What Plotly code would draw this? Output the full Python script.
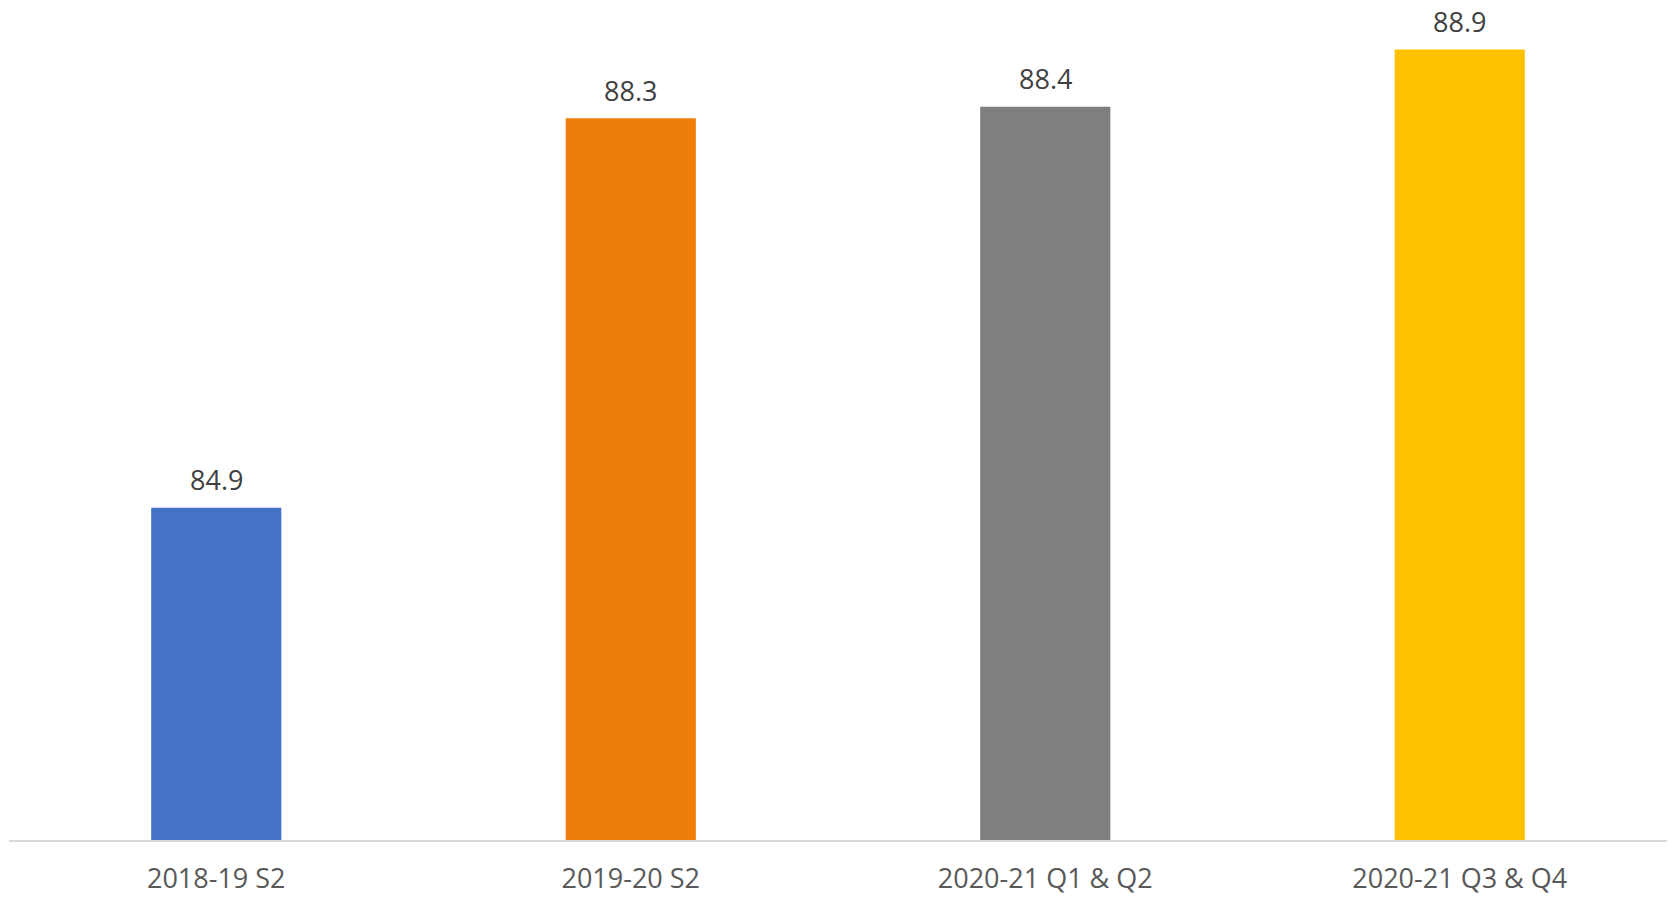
import plotly.graph_objects as go

# Survey periods and their scores
periods = ["2018-19 S2", "2019-20 S2", "2020-21 Q1 & Q2", "2020-21 Q3 & Q4"]
scores = [84.9, 88.3, 88.4, 88.9]
bar_colors = ["#4472C4", "#EF7D0A", "#7F7F7F", "#FFC000"]

fig = go.Figure(
    go.Bar(
        x=periods,
        y=scores,
        marker=dict(color=bar_colors, line=dict(width=0)),
        hoverinfo="skip",
    )
)

# Value labels sitting above each bar
for p, v in zip(periods, scores):
    fig.add_annotation(
        x=p,
        y=v,
        text=f"{v:.1f}",
        showarrow=False,
        yanchor="middle",
        yshift=28,
        font=dict(family="Open Sans", size=27, color="#404040"),
    )

fig.update_layout(
    width=1677,
    height=897,
    margin=dict(l=9, r=10, t=15, b=57),
    paper_bgcolor="white",
    plot_bgcolor="white",
    bargap=0.686,
    showlegend=False,
)

fig.update_xaxes(
    automargin=False,
    showgrid=False,
    showline=True,
    linecolor="#D9D9D9",
    linewidth=2,
    ticks="outside",
    ticklen=14,
    tickcolor="rgba(0,0,0,0)",
    tickfont=dict(family="Open Sans", size=27, color="#595959"),
)

fig.update_yaxes(
    automargin=False,
    range=[82, 89.2],
    visible=False,
    showgrid=False,
    zeroline=False,
)

fig.write_html("out.html")
